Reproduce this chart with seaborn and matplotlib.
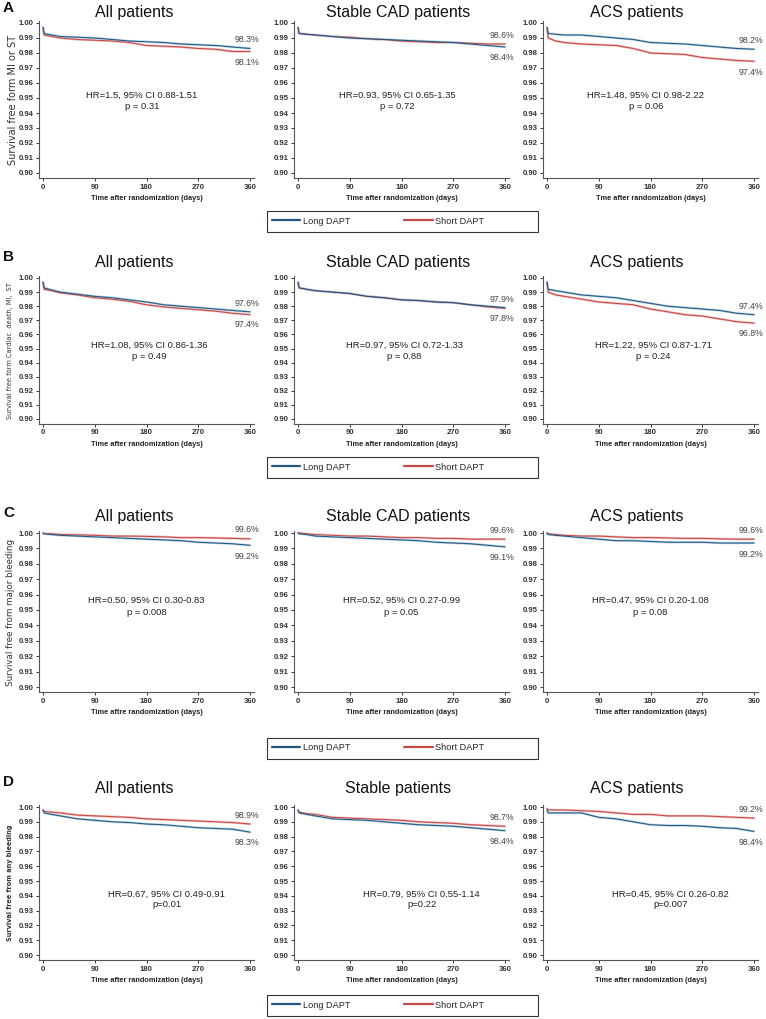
import numpy as np
import pandas as pd
import matplotlib
matplotlib.use("Agg")
import matplotlib.pyplot as plt
import seaborn as sns
from matplotlib.patches import Rectangle
from matplotlib.lines import Line2D

# ---------------- data ----------------
TIME = [0, 2, 15, 30, 60, 90, 120, 150, 180, 210, 240, 270, 300, 330, 360]
X_TICKS = [0, 90, 180, 270, 360]
Y_TICKS = [0.90, 0.91, 0.92, 0.93, 0.94, 0.95, 0.96, 0.97, 0.98, 0.99, 1.00]
ARMS = ["Long DAPT", "Short DAPT"]

# Row A: MI or ST
A_all_long = [0.997, 0.993, 0.992, 0.991, 0.9905, 0.990, 0.989, 0.988, 0.9875, 0.987, 0.986, 0.9855, 0.985, 0.984, 0.983]
A_all_short = [0.997, 0.992, 0.991, 0.990, 0.989, 0.9885, 0.988, 0.987, 0.985, 0.9845, 0.984, 0.983, 0.9825, 0.981, 0.981]
A_cad_long = [0.997, 0.993, 0.9925, 0.992, 0.991, 0.990, 0.9895, 0.989, 0.9885, 0.988, 0.9875, 0.987, 0.986, 0.985, 0.984]
A_cad_short = [0.997, 0.993, 0.9925, 0.992, 0.991, 0.9905, 0.9895, 0.989, 0.988, 0.9875, 0.987, 0.987, 0.9865, 0.986, 0.986]
A_acs_long = [0.997, 0.993, 0.9925, 0.992, 0.992, 0.991, 0.990, 0.989, 0.987, 0.9865, 0.986, 0.985, 0.984, 0.983, 0.9825]
A_acs_short = [0.997, 0.990, 0.988, 0.987, 0.986, 0.9855, 0.985, 0.983, 0.980, 0.9795, 0.979, 0.977, 0.976, 0.975, 0.9745]

# Row B: cardiac death, MI, ST
B_all_long = [0.997, 0.993, 0.9915, 0.990, 0.9885, 0.987, 0.986, 0.9845, 0.983, 0.981, 0.980, 0.979, 0.978, 0.977, 0.976]
B_all_short = [0.997, 0.992, 0.991, 0.9895, 0.988, 0.986, 0.985, 0.9835, 0.981, 0.9795, 0.9785, 0.9775, 0.9765, 0.975, 0.974]
B_cad_long = [0.997, 0.993, 0.992, 0.991, 0.990, 0.989, 0.987, 0.986, 0.9845, 0.984, 0.983, 0.9825, 0.981, 0.980, 0.979]
B_cad_short = [0.997, 0.993, 0.992, 0.991, 0.990, 0.989, 0.987, 0.986, 0.9845, 0.984, 0.983, 0.9825, 0.981, 0.9795, 0.9785]
B_acs_long = [0.997, 0.992, 0.991, 0.990, 0.988, 0.987, 0.986, 0.984, 0.982, 0.980, 0.979, 0.978, 0.977, 0.975, 0.974]
B_acs_short = [0.997, 0.990, 0.988, 0.987, 0.985, 0.983, 0.982, 0.981, 0.978, 0.976, 0.974, 0.973, 0.971, 0.969, 0.968]

# Row C: major bleeding
C_all_long = [1.000, 0.9995, 0.999, 0.9985, 0.998, 0.9975, 0.997, 0.9965, 0.996, 0.9955, 0.995, 0.994, 0.9935, 0.993, 0.992]
C_all_short = [1.000, 0.9995, 0.9995, 0.999, 0.9988, 0.9985, 0.998, 0.998, 0.9978, 0.9975, 0.997, 0.997, 0.9968, 0.9965, 0.9962]
C_cad_long = [1.000, 0.9995, 0.999, 0.998, 0.9975, 0.997, 0.9965, 0.996, 0.9955, 0.995, 0.994, 0.9935, 0.993, 0.992, 0.991]
C_cad_short = [1.000, 1.000, 0.9995, 0.999, 0.9985, 0.998, 0.998, 0.9975, 0.997, 0.997, 0.9965, 0.9965, 0.996, 0.996, 0.996]
C_acs_long = [1.000, 0.999, 0.9985, 0.998, 0.997, 0.996, 0.995, 0.995, 0.9945, 0.994, 0.994, 0.994, 0.9935, 0.9935, 0.9935]
C_acs_short = [1.000, 0.9995, 0.999, 0.9985, 0.998, 0.998, 0.9975, 0.997, 0.997, 0.9968, 0.9965, 0.9965, 0.9962, 0.996, 0.996]

# Row D: any bleeding
D_all_long = [0.998, 0.996, 0.995, 0.994, 0.992, 0.991, 0.990, 0.9895, 0.9885, 0.988, 0.987, 0.986, 0.9855, 0.985, 0.983]
D_all_short = [0.998, 0.997, 0.9965, 0.996, 0.9945, 0.994, 0.9935, 0.993, 0.992, 0.9915, 0.991, 0.9905, 0.990, 0.9895, 0.9885]
D_sta_long = [0.998, 0.996, 0.995, 0.994, 0.992, 0.9915, 0.991, 0.990, 0.989, 0.988, 0.9875, 0.987, 0.986, 0.985, 0.984]
D_sta_short = [0.998, 0.9965, 0.9955, 0.995, 0.993, 0.9925, 0.992, 0.9915, 0.991, 0.990, 0.9895, 0.989, 0.988, 0.9875, 0.987]
D_acs_long = [0.998, 0.996, 0.996, 0.996, 0.996, 0.993, 0.992, 0.990, 0.988, 0.9875, 0.9875, 0.987, 0.986, 0.9855, 0.9835]
D_acs_short = [0.999, 0.998, 0.998, 0.998, 0.9975, 0.997, 0.996, 0.995, 0.995, 0.994, 0.994, 0.994, 0.9935, 0.993, 0.9925]

PANEL_LETTERS = ["A", "B", "C", "D"]
TITLES = [
    ["All patients", "Stable CAD patients", "ACS patients"],
    ["All patients", "Stable CAD patients", "ACS patients"],
    ["All patients", "Stable CAD patients", "ACS patients"],
    ["All patients", "Stable patients", "ACS patients"],
]
Y_LABELS = [
    "Survival free form MI or ST",
    "Survival free form Cardiac  death, MI,  ST",
    "Survival free from major bleeding",
    "Survival free from any bleeding",
]
X_LABELS = [
    ["Time after randomization (days)", "Time after randomization (days)", "Tme after randomization (days)"],
    ["Time after randomization (days)", "Time after randomization (days)", "Time after randomization (days)"],
    ["Time aftre randomization (days)", "Time after randomization (days)", "Time after randomization (days)"],
    ["Time after randomization (days)", "Time after randomization (days)", "Time after randomization (days)"],
]
HR_TEXT = [
    ["HR=1.5, 95% CI 0.88-1.51", "HR=0.93, 95% CI 0.65-1.35", "HR=1.48, 95% CI 0.98-2.22"],
    ["HR=1.08, 95% CI 0.86-1.36", "HR=0.97, 95% CI 0.72-1.33", "HR=1.22, 95% CI 0.87-1.71"],
    ["HR=0.50, 95% CI 0.30-0.83", "HR=0.52, 95% CI 0.27-0.99", "HR=0.47, 95% CI 0.20-1.08"],
    ["HR=0.67, 95% CI 0.49-0.91", "HR=0.79, 95% CI 0.55-1.14", "HR=0.45, 95% CI 0.26-0.82"],
]
P_TEXT = [
    ["p = 0.31", "p = 0.72", "p = 0.06"],
    ["p = 0.49", "p = 0.88", "p = 0.24"],
    ["p = 0.008", "p = 0.05", "p = 0.08"],
    ["p=0.01", "p=0.22", "p=0.007"],
]
UPPER_LABELS = [
    ["98.3%", "98.6%", "98.2%"],
    ["97.6%", "97.9%", "97.4%"],
    ["99.6%", "99.6%", "99.6%"],
    ["98.9%", "98.7%", "99.2%"],
]
LOWER_LABELS = [
    ["98.1%", "98.4%", "97.4%"],
    ["97.4%", "97.8%", "96.8%"],
    ["99.2%", "99.1%", "99.2%"],
    ["98.3%", "98.4%", "98.4%"],
]
CURVES = [
    [(A_all_long, A_all_short), (A_cad_long, A_cad_short), (A_acs_long, A_acs_short)],
    [(B_all_long, B_all_short), (B_cad_long, B_cad_short), (B_acs_long, B_acs_short)],
    [(C_all_long, C_all_short), (C_cad_long, C_cad_short), (C_acs_long, C_acs_short)],
    [(D_all_long, D_all_short), (D_sta_long, D_sta_short), (D_acs_long, D_acs_short)],
]

# ---------------- style / layout ----------------
sns.set_style("ticks")
plt.rcParams["font.family"] = ["DejaVu Sans"]

W, H = 766, 1019
BLUE, RED = "#24557f", "#c24a48"
BLUE_S, RED_S = "#b8d4e6", "#f0bfbd"
YMIN, YMAX = 0.8965, 1.0015
XMIN, XMAX = -7, 367
AX_W = 215
COL_LEFT = [39, 294, 543]
ROW_Y1 = [23, 278, 533, 807]     # pixel of 1.00
ROW_Y0 = [173, 419, 687, 955]    # pixel of 0.90
TITLE_Y = [12, 262, 516, 789]
TITLE_X = [134, 398, 637]
LETTER_Y = [8, 257, 513, 782]
LEGEND_Y = [221, 467, 748, 1005]
HR_X = [172, 185, 180, 215]
HR_Y = [(0.952, 0.9445), (0.952, 0.944), (0.9565, 0.9485), (0.941, 0.9338)]
YLAB_X = [13, 10, 11, 10]
YLAB_STYLE = [(7.0, "normal"), (4.8, "normal"), (6.3, "normal"), (4.7, "bold")]

fig = plt.figure(figsize=(W / 100, H / 100), dpi=100)


def rect(left_px, y1, y0):
    ppu = (y0 - y1) / 0.10
    top = y1 - (YMAX - 1.0) * ppu
    bot = y0 + (0.90 - YMIN) * ppu
    return [left_px / W, 1 - bot / H, AX_W / W, (bot - top) / H]


for r in range(4):
    for c in range(3):
        ax = fig.add_axes(rect(COL_LEFT[c], ROW_Y1[r], ROW_Y0[r]))
        long_v, short_v = CURVES[r][c]
        df = pd.DataFrame({
            "day": TIME + TIME,
            "surv": list(short_v) + list(long_v),
            "arm": ["Short DAPT"] * len(TIME) + ["Long DAPT"] * len(TIME),
        })
        sns.lineplot(data=df, x="day", y="surv", hue="arm",
                     hue_order=["Short DAPT", "Long DAPT"],
                     palette={"Short DAPT": RED_S, "Long DAPT": BLUE_S},
                     estimator=None, legend=False,
                     linewidth=1.7, ax=ax)
        sns.lineplot(data=df, x="day", y="surv", hue="arm",
                     hue_order=["Short DAPT", "Long DAPT"],
                     palette={"Short DAPT": RED, "Long DAPT": BLUE},
                     estimator=None, legend=False,
                     linewidth=0.75, ax=ax)
        ax.set_xlim(XMIN, XMAX)
        ax.set_ylim(YMIN, YMAX)
        ax.set_xticks(X_TICKS)
        ax.set_yticks(Y_TICKS)
        ax.set_yticklabels([f"{v:.2f}" for v in Y_TICKS])
        ax.set_xticklabels([str(v) for v in X_TICKS])
        ax.tick_params(labelsize=5.6, length=2.5, width=0.7, pad=1.5,
                       colors="#333333")
        for lbl in ax.get_xticklabels() + ax.get_yticklabels():
            lbl.set_fontweight("bold")
            lbl.set_family("Liberation Sans")
        for s in ["top", "right"]:
            ax.spines[s].set_visible(False)
        for s in ["left", "bottom"]:
            ax.spines[s].set_color("#555555")
            ax.spines[s].set_linewidth(0.8)
        ax.set_ylabel("")
        ax.set_xlabel(X_LABELS[r][c], fontsize=5.3, fontweight="bold",
                      family="Liberation Sans", labelpad=3, color="#222222")

        # HR annotation
        ax.text(HR_X[r], HR_Y[r][0], HR_TEXT[r][c], ha="center", va="center",
                fontsize=6.8, family="Liberation Sans", color="#222222")
        ax.text(HR_X[r], HR_Y[r][1], P_TEXT[r][c], ha="center", va="center",
                fontsize=6.8, family="Liberation Sans", color="#222222")

        # end-of-curve labels
        top_end = max(long_v[-1], short_v[-1])
        bot_end = min(long_v[-1], short_v[-1])
        ax.text(355, top_end + 0.0058, UPPER_LABELS[r][c], ha="center",
                va="center", fontsize=6.3, family="Liberation Sans",
                color="#444444", clip_on=False)
        ax.text(355, bot_end - 0.0072, LOWER_LABELS[r][c], ha="center",
                va="center", fontsize=6.3, family="Liberation Sans",
                color="#444444", clip_on=False)

        fig.text(TITLE_X[c] / W, 1 - TITLE_Y[r] / H, TITLES[r][c],
                 ha="center", va="center", fontsize=11.5,
                 family="Liberation Sans", color="#111111")

    # y-label for the row
    yc = (ROW_Y1[r] + ROW_Y0[r]) / 2 + 2
    fs, fw = YLAB_STYLE[r]
    fig.text(YLAB_X[r] / W, 1 - yc / H, Y_LABELS[r], rotation=90,
             ha="center", va="center", fontsize=fs, fontweight=fw,
             color="#333333")

    # panel letter
    fig.text(3 / W, 1 - LETTER_Y[r] / H, PANEL_LETTERS[r], ha="left",
             va="center", fontsize=11, fontweight="bold",
             family="Liberation Sans", color="#111111")

    # legend with box
    yl = LEGEND_Y[r]
    fig.patches.append(Rectangle((267 / W, 1 - (yl + 10.5) / H), 271 / W,
                                 21 / H, transform=fig.transFigure,
                                 fill=False, ec="#333333", lw=0.8))
    handles = [Line2D([], [], color=BLUE, lw=1.6),
               Line2D([], [], color=RED, lw=1.6)]
    fig.legend(handles=handles, labels=ARMS, loc="center left",
               bbox_to_anchor=(272 / W, 1 - yl / H), frameon=False, ncol=2,
               prop={"family": "Liberation Sans", "size": 6.6},
               handlelength=3.1, handletextpad=0.25, columnspacing=5.9,
               borderpad=0, borderaxespad=0)

fig.savefig("out.png", dpi=100)
